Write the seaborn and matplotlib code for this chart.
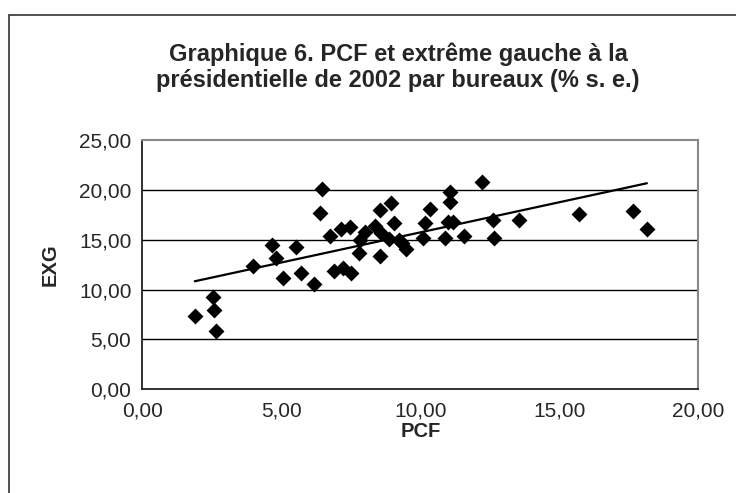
import matplotlib
matplotlib.use("Agg")
import matplotlib.pyplot as plt
import seaborn as sns
import pandas as pd
from matplotlib.patches import Rectangle
from matplotlib.ticker import FuncFormatter

# PCF and EXG scores by polling station (% s. e.)
pcf = [1.88, 2.54, 2.57, 2.66, 3.96, 4.65, 4.80, 5.04, 5.53, 5.71,
       6.17, 6.45, 6.37, 6.73, 6.89, 7.16, 7.22, 7.46, 7.52, 7.82,
       7.79, 8.02, 8.38, 8.53, 8.56, 8.93, 8.59, 9.04, 8.86, 9.22,
       9.47, 9.34, 10.08, 10.16, 10.36, 11.08, 11.08, 11.16, 10.90, 11.58,
       12.23, 12.60, 12.64, 13.54, 15.70, 17.65, 18.15, 11.00]
exg = [7.40, 9.25, 7.97, 5.89, 12.34, 14.52, 13.17, 11.20, 14.28, 11.66,
       10.59, 20.09, 17.64, 15.42, 11.86, 16.09, 12.13, 16.23, 11.70, 14.95,
       13.71, 15.76, 16.36, 13.41, 17.98, 18.65, 15.69, 16.63, 15.09, 14.95,
       14.11, 14.70, 15.22, 16.63, 18.04, 19.82, 18.75, 16.80, 15.22, 15.42,
       20.76, 16.97, 15.22, 16.97, 17.54, 17.87, 16.06, 16.80]

x_ticks = [0, 5, 10, 15, 20]
y_ticks = [0, 5, 10, 15, 20, 25]

df = pd.DataFrame({"PCF": pcf, "EXG": exg})

sns.set_style("white")
plt.rcParams["font.family"] = ["Liberation Sans", "DejaVu Sans"]

fig = plt.figure(figsize=(7.36, 4.93), dpi=100)
ax = fig.add_axes([0.1936, 0.2103, 0.7552, 0.5057])

# outer frame of the chart (cut on the right and bottom)
fig.patches.append(Rectangle((8.5 / 736, -0.05), 1.2, 1 - 15 / 493 + 0.05,
                             transform=fig.transFigure, fill=False,
                             edgecolor="#333333", linewidth=1.2))

sns.regplot(data=df, x="PCF", y="EXG", ax=ax, ci=None, marker="D",
            color="black",
            scatter_kws={"s": 66, "linewidths": 0, "alpha": 1, "zorder": 3},
            line_kws={"linewidth": 1.6, "color": "black", "zorder": 2})

ax.set_xlim(0, 20)
ax.set_ylim(0, 25)
ax.set_xticks(x_ticks)
ax.set_yticks(y_ticks)
fmt = FuncFormatter(lambda v, p: f"{v:.2f}".replace(".", ","))
ax.xaxis.set_major_formatter(fmt)
ax.yaxis.set_major_formatter(fmt)

for v in y_ticks[1:-1]:
    ax.axhline(v, color="black", linewidth=1.0, zorder=1)

for side in ["left", "bottom"]:
    ax.spines[side].set_color("#222222")
    ax.spines[side].set_linewidth(1.3)
for side in ["top", "right"]:
    ax.spines[side].set_color("#888888")
    ax.spines[side].set_linewidth(1.5)

ax.tick_params(axis="both", direction="out", length=6, width=1.2,
               color="#222222", labelsize=15, pad=2)
ax.tick_params(axis="x", pad=3)

ax.set_xlabel("PCF", fontsize=14.5, fontweight="bold", labelpad=1)
ax.set_ylabel("EXG", fontsize=14.5, fontweight="bold", labelpad=14)

fig.text(398 / 736, 1 - 54 / 493, "Graphique 6. PCF et extrême gauche à la",
         ha="center", va="center", fontsize=17, fontweight="bold")
fig.text(398 / 736, 1 - 80 / 493, "présidentielle de 2002 par bureaux (% s. e.)",
         ha="center", va="center", fontsize=17, fontweight="bold")

fig.savefig("out.png", dpi=100)
plt.close(fig)
